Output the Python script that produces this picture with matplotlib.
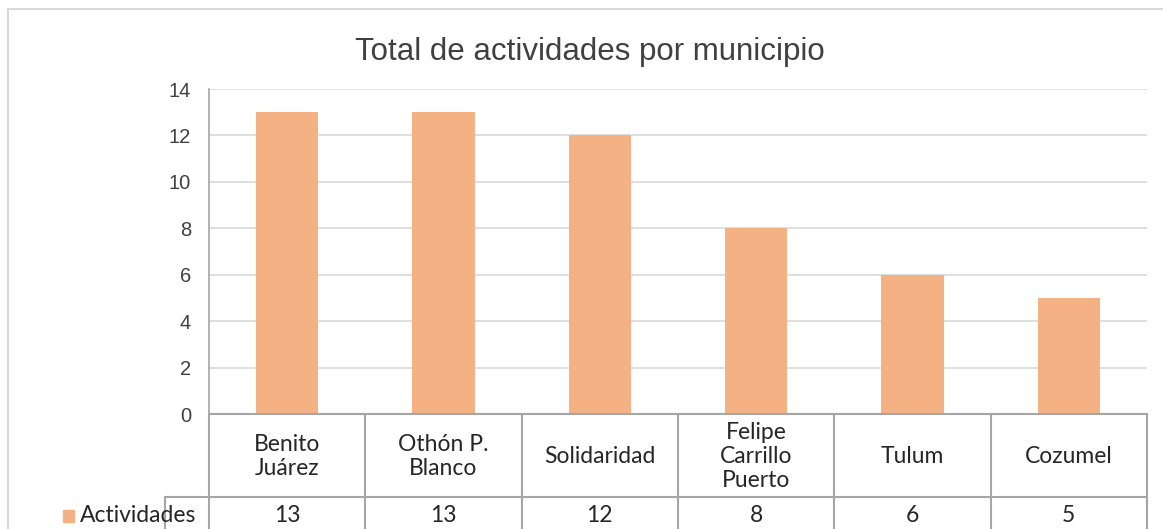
import matplotlib
matplotlib.use("Agg")
import matplotlib.pyplot as plt
from matplotlib.lines import Line2D
from matplotlib.patches import Rectangle

categories = ["Benito\nJuárez", "Othón P.\nBlanco", "Solidaridad",
              "Felipe\nCarrillo\nPuerto", "Tulum", "Cozumel"]
values = [13, 13, 12, 8, 6, 5]
series_name = "Actividades"
title = "Total de actividades por municipio"
yticks = [0, 2, 4, 6, 8, 10, 12, 14]

W, H = 1163, 529
fig = plt.figure(figsize=(W / 100, H / 100), dpi=100)
fig.patch.set_facecolor("white")

def fx(px): return px / W
def fy(py): return 1 - py / H

bar_color = "#F4B183"
grid_color = "#D9D9D9"
table_color = "#A6A6A6"
table_font = ["Lato", "DejaVu Sans"]
tsize = 16.5

# chart frame
fig.add_artist(Rectangle((fx(7.5), fy(600)), fx(1200), fy(9.5) - fy(600),
                         transform=fig.transFigure, fill=False,
                         edgecolor="#D9D9D9", lw=1.5))

x0, x1 = 209, 1147
y_top, y_bot = 89, 414
ax = fig.add_axes([fx(x0), fy(y_bot), fx(x1) - fx(x0), fy(y_top) - fy(y_bot)])
n = len(values)
ax.bar(range(n), values, width=0.4, color=bar_color, zorder=3)
ax.set_xlim(-0.5, n - 0.5)
ax.set_ylim(0, 14)
ax.set_yticks(yticks)
ax.set_yticklabels([str(t) for t in yticks], fontsize=14.5, color="#404040",
                   family=["Liberation Sans", "DejaVu Sans"])
ax.tick_params(axis="y", length=0, pad=13)
ax.set_xticks([])
ax.grid(axis="y", color=grid_color, lw=1.2, zorder=0)
for s in ["top", "right", "bottom"]:
    ax.spines[s].set_visible(False)
ax.spines["left"].set_color(table_color)
ax.spines["left"].set_linewidth(1.2)

fig.text(fx(590), fy(52), title, ha="center", va="center", fontsize=22.5,
         color="#404040", family=["Liberation Sans", "DejaVu Sans"])

# data table
col_w = (x1 - x0) / n
row1_bot = 497
row2_bot = 560
lk = dict(transform=fig.transFigure, color=table_color, lw=1.5)
fig.add_artist(Line2D([fx(x0), fx(x1)], [fy(y_bot), fy(y_bot)], **lk))
fig.add_artist(Line2D([fx(165), fx(x1)], [fy(row1_bot), fy(row1_bot)], **lk))
fig.add_artist(Line2D([fx(165), fx(165)], [fy(row1_bot), fy(row2_bot)], **lk))
for i in range(n + 1):
    xx = x0 + i * col_w
    fig.add_artist(Line2D([fx(xx), fx(xx)], [fy(y_bot), fy(row2_bot)], **lk))

for i, (c, v) in enumerate(zip(categories, values)):
    cx = x0 + (i + 0.5) * col_w
    fig.text(fx(cx), fy((y_bot + row1_bot) / 2 + 1), c, ha="center", va="center",
             fontsize=tsize, color="#262626", family=table_font, linespacing=1.2)
    fig.text(fx(cx), fy(516), str(v), ha="center", va="center",
             fontsize=tsize, color="#262626", family=table_font)

fig.add_artist(Rectangle((fx(63), fy(522)), fx(11), fy(510) - fy(522),
                         transform=fig.transFigure, color=bar_color))
fig.text(fx(80), fy(516), series_name, ha="left", va="center",
         fontsize=tsize, color="#262626", family=table_font)

fig.savefig("out.png", dpi=100, facecolor="white")
